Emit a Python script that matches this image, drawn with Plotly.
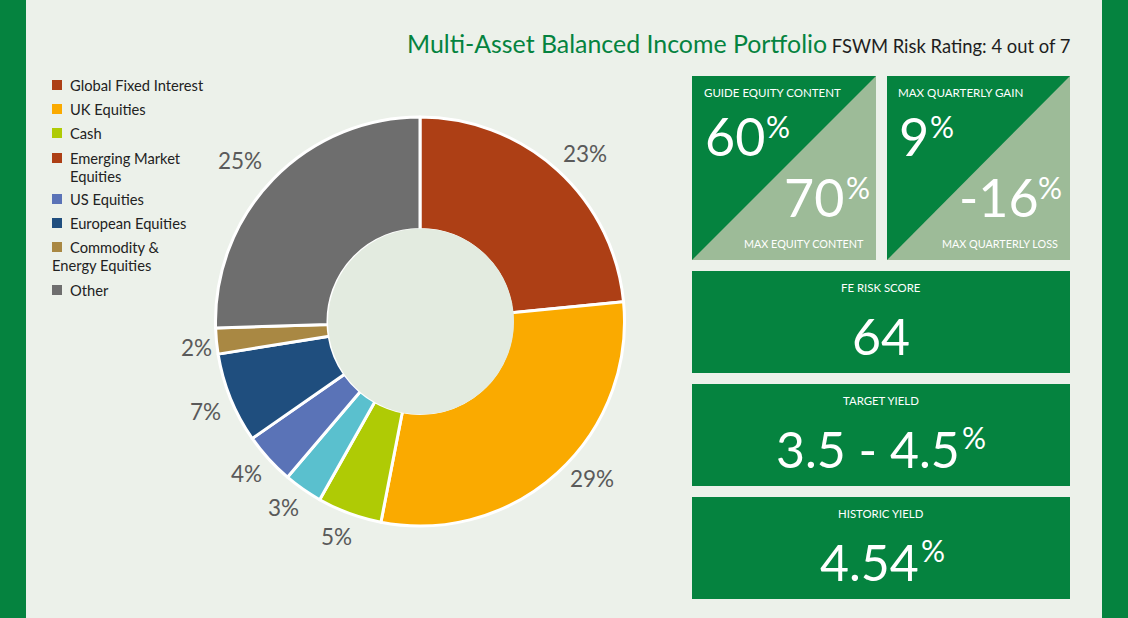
import plotly.graph_objects as go

W, H = 1128, 618

categories = ['Global Fixed Interest', 'UK Equities', 'Cash', 'Emerging Market Equities',
              'US Equities', 'European Equities', 'Commodity & Energy Equities', 'Other']
weights = [23, 29, 5, 3, 4, 7, 2, 25]
weight_labels = ['23%', '29%', '5%', '3%', '4%', '7%', '2%', '25%']
slice_colors = ['#AD3F15', '#FAAA00', '#AFCB05', '#5AC0CE', '#5A73B7', '#1F4E7E', '#A98843', '#6E6E6E']
legend_colors = ['#AD3F15', '#FAAA00', '#AFCB05', '#AD3F15', '#5A73B7', '#1F4E7E', '#A98843', '#6E6E6E']
# wrapped the way the page wraps them
legend_lines = [['Global Fixed Interest'], ['UK Equities'], ['Cash'], ['Emerging Market', 'Equities'],
                ['US Equities'], ['European Equities'], ['Commodity &', 'Energy Equities'], ['Other']]

# where things sit on the page, in pixels
legend_y = [85, 109, 133, 158, 199, 223, 247, 290]
pie_label_pos = [(585, 153), (592, 478), (336, 536), (283, 507), (246, 473), (205, 411), (196, 347), (240, 161)]

GREEN = '#05833F'
PALE = '#9DBB98'
BG = '#ECF1EA'
CX, CY = 420, 321.5


def px(x):
    return x / W


def py(y):
    return 1 - y / H


def rect(x0, y0, x1, y1, color):
    return dict(type='rect', xref='paper', yref='paper', x0=px(x0), x1=px(x1), y0=py(y1), y1=py(y0),
                fillcolor=color, line_width=0, layer='below')


def tri(points, color):
    path = 'M ' + ' L '.join(f'{px(a)},{py(b)}' for a, b in points) + ' Z'
    return dict(type='path', xref='paper', yref='paper', path=path, fillcolor=color, line_width=0, layer='below')


def label(x, y, text, size, anchor='center', color='white'):
    # annotations pad their text by about 2px
    if anchor == 'left':
        x -= 2
    elif anchor == 'right':
        x += 2
    return dict(xref='paper', yref='paper', x=px(x), y=py(y), text=text, showarrow=False, xanchor=anchor,
                yanchor='middle', font=dict(family='Lato', size=size, color=color), align='left')


def big_value(x, y, text, size, pct_x, pct_y):
    out = [label(x, y, text, size, 'left')]
    if pct_x is not None:
        out.append(label(pct_x, pct_y, '%', 30, 'left'))
    return out


shapes = [rect(0, 0, 26, H, GREEN), rect(1102, 0, W, H, GREEN)]
annotations = []

# hole of the doughnut, over the white slice edges
shapes.append(dict(type='circle', xref='paper', yref='paper', x0=px(CX + 1 - 93), x1=px(CX + 1 + 93),
                   y0=py(CY + 93), y1=py(CY - 93), fillcolor='#E3EBE0', line_width=0, layer='above'))

# square tiles
for x0 in [692, 887]:
    x1 = x0 + 184 if x0 == 692 else x0 + 183
    shapes.append(rect(x0, 76, x1, 260, GREEN))
    shapes.append(tri([(x1, 76), (x1, 260), (x0, 260)], PALE))

annotations += [
    label(704, 93, 'GUIDE EQUITY CONTENT', 11.5, 'left'),
    label(864, 243.5, 'MAX EQUITY CONTENT', 10.8, 'right'),
    label(898, 93, 'MAX QUARTERLY GAIN', 11.6, 'left'),
    label(1058, 243.5, 'MAX QUARTERLY LOSS', 10.8, 'right'),
]
annotations += big_value(705, 136, '60', 52, 766, 126)
annotations += big_value(784, 197, '70', 52, 846, 187)
annotations += big_value(899, 136, '9', 52, 930, 126)
annotations += big_value(959, 197, '-16', 52, 1038, 187)

# wide tiles
for y0, head, value, x, pct_x in [(271, 'FE RISK SCORE', '64', 852, None),
                                  (384, 'TARGET YIELD', '3.5 - 4.5', 776, 962),
                                  (497, 'HISTORIC YIELD', '4.54', 820, 921)]:
    shapes.append(rect(692, y0, 1070, y0 + 102, GREEN))
    annotations.append(label(881, y0 + 16.5, head, 11.4))
    annotations += big_value(x, y0 + 65, value, 50, pct_x, y0 + 52.5)

# title
annotations.append(label(1070, 43.5, f'<span style="color:{GREEN};font-size:24.9px">Multi-Asset Balanced Income Portfolio</span>'
                                     ' FSWM Risk Rating: 4 out of 7', 18.4, 'right', '#1E1E1E'))

# legend
for lines, color, y in zip(legend_lines, legend_colors, legend_y):
    shapes.append(rect(52, y - 5, 62, y + 5, color))
    annotations.append(label(70, y - 0.5, lines[0], 14.7, 'left', '#222222'))
    if len(lines) > 1:
        x = 52 if lines[0].startswith('Commodity') else 70
        annotations.append(label(x, y + 17.5, lines[1], 14.7, 'left', '#222222'))

# slice percentages, placed where the original puts them
for text, (x, y) in zip(weight_labels, pie_label_pos):
    annotations.append(label(x, y, text, 22.5, 'center', '#5A5A5A'))

fig = go.Figure(go.Pie(
    labels=categories,
    values=weights,
    textinfo='none',
    sort=False,
    direction='clockwise',
    rotation=0,
    hole=0.45,
    marker=dict(colors=slice_colors, line=dict(color='white', width=3)),
    domain=dict(x=[px(CX - 204.5), px(CX + 204.5)], y=[py(CY + 204.5), py(CY - 204.5)]),
))

fig.update_layout(
    width=W, height=H,
    margin=dict(l=0, r=0, t=0, b=0),
    paper_bgcolor=BG,
    showlegend=False,
    shapes=shapes,
    annotations=annotations,
    font=dict(family='Lato'),
)

fig.write_html("out.html", config=dict(displayModeBar=False),
               post_script="document.body.style.margin='0';")
